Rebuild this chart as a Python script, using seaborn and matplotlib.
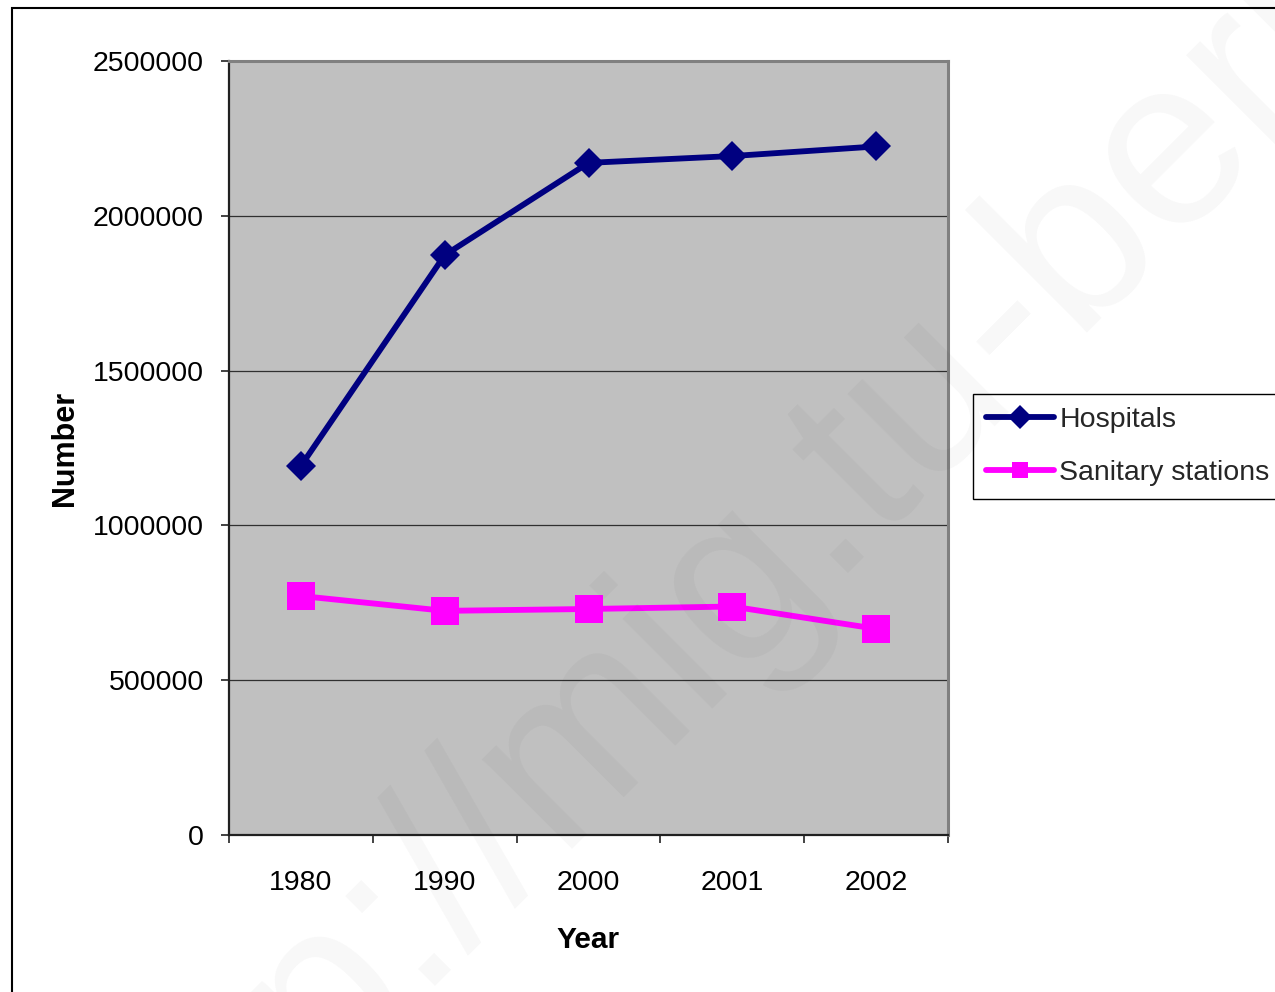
import matplotlib
matplotlib.use("Agg")
import matplotlib.pyplot as plt
from matplotlib.patches import Rectangle
from matplotlib.ticker import FixedLocator, NullFormatter
import seaborn as sns
import pandas as pd

# Data
years = ["1980", "1990", "2000", "2001", "2002"]
hospitals = [1192000, 1873000, 2171000, 2193000, 2224000]
sanitary_stations = [772000, 724000, 730000, 738000, 666000]
y_ticks = [0, 500000, 1000000, 1500000, 2000000, 2500000]
y_tick_labels = [str(v) for v in y_ticks]

sns.set_theme(style="white")
plt.rcParams["font.family"] = ["Liberation Sans", "DejaVu Sans"]

W, H = 1275, 992
fig = plt.figure(figsize=(W / 100, H / 100), dpi=100)
fig.patch.set_facecolor("white")

# plot area in pixel terms
left, right, top, bottom = 229, 948, 61, 835
ax = fig.add_axes([left / W, 1 - bottom / H, (right - left) / W, (bottom - top) / H])
ax.set_facecolor("#C0C0C0")

df_h = pd.DataFrame({"Year": years, "Number": hospitals})
df_s = pd.DataFrame({"Year": years, "Number": sanitary_stations})

sns.lineplot(data=df_h, x="Year", y="Number", ax=ax, color="#000080", lw=4.2,
             marker="D", markersize=15, markeredgewidth=0, label="Hospitals",
             zorder=4)
sns.lineplot(data=df_s, x="Year", y="Number", ax=ax, color="#FF00FF", lw=4.2,
             marker="s", markersize=20, markeredgewidth=0,
             label="Sanitary stations", zorder=4)

ax.set_xlim(-0.5, len(years) - 0.5)
ax.set_ylim(y_ticks[0], y_ticks[-1])

# y axis
ax.set_yticks(y_ticks)
ax.set_yticklabels(y_tick_labels)
ax.tick_params(axis="y", which="major", direction="out", length=6, width=1.2,
               color="#222222", pad=12, labelsize=20.5, labelcolor="black",
               left=True)

# x axis: labels in category centres, tick marks on the category borders
ax.set_xticks(range(len(years)))
ax.set_xticklabels(years)
ax.xaxis.set_minor_locator(FixedLocator([i - 0.5 for i in range(len(years) + 1)]))
ax.xaxis.set_minor_formatter(NullFormatter())
ax.tick_params(axis="x", which="major", length=0, pad=25, labelsize=20.5,
               labelcolor="black")
ax.tick_params(axis="x", which="minor", direction="out", length=6, width=1.2,
               color="#222222", bottom=True)

ax.yaxis.grid(True, color="#303030", lw=0.9)
ax.xaxis.grid(False)
ax.set_axisbelow(True)

for side in ("left", "bottom"):
    ax.spines[side].set_color("#202020")
    ax.spines[side].set_linewidth(1.6)
for side in ("top", "right"):
    ax.spines[side].set_color("#808080")
    ax.spines[side].set_linewidth(2.2)

ax.set_xlabel("Year", fontsize=21.5, fontweight="bold", color="black")
ax.set_ylabel("Number", fontsize=22, fontweight="bold", color="black")
ax.xaxis.set_label_coords(0.5, -0.117)
ax.yaxis.set_label_coords(-0.207, 0.5)

leg = ax.legend(loc="upper left", bbox_to_anchor=(973 / W, 1 - 394 / H),
                bbox_transform=fig.transFigure, frameon=True, fancybox=False,
                shadow=False, framealpha=1, edgecolor="black", fontsize=20.5,
                borderpad=0.45, labelspacing=0.95, handlelength=2.4,
                handletextpad=0.18, borderaxespad=0)
leg.get_frame().set_linewidth(1.0)
for h in leg.legend_handles:
    h.set_markersize(12)

# outer chart frame
fig.add_artist(Rectangle((11.5 / W, -0.2), 1.5, 1 - 7.5 / H + 0.2,
                         transform=fig.transFigure, fill=False,
                         edgecolor="black", lw=1.5))

# faint site watermark
fig.text(0.1055, -0.2807, "http://mig.tu-berlin.de", rotation=45,
         rotation_mode="anchor", ha="left", va="baseline", fontsize=172,
         color="black", alpha=0.03, zorder=10)

fig.savefig("out.png", dpi=100)
